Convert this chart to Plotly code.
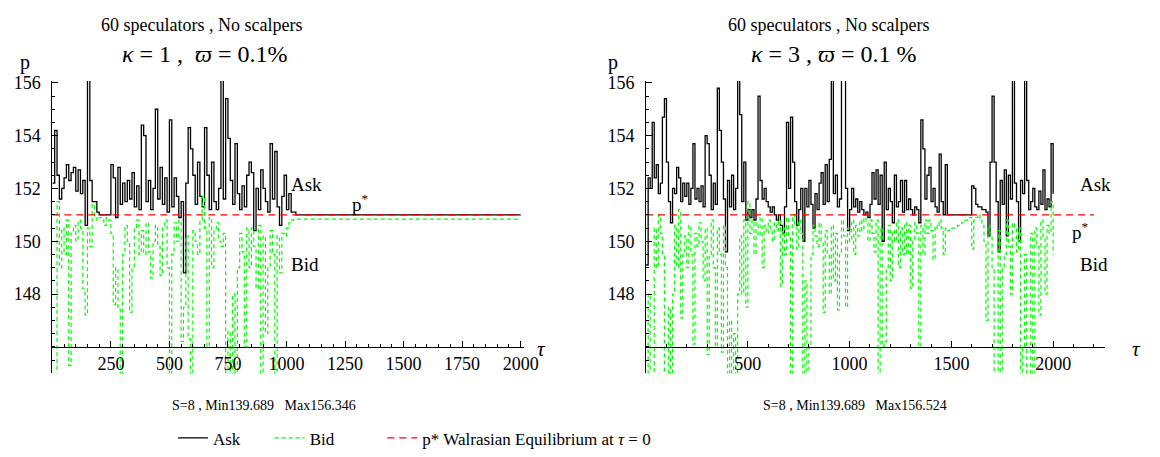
import plotly.graph_objects as go

W, H = 1160, 457
SERIF = "Liberation Serif"

# ---------------- data ----------------
TAU_STEP = 10
P_STAR = 151.0

# Left panel: kappa = 1   (tau = 0, 10, ..., 1030), then flat tails to 2000
ask_L = [
    152.2, 154.2, 152.5, 151.6, 152.0, 152.4, 152.9, 152.3, 152.6, 152.8,
    151.9, 152.7, 151.8, 152.3, 150.6, 156.3, 152.3, 151.5, 151.5, 151.1,
    151.0, 151.0, 151.0, 151.0, 151.0, 152.9, 152.4, 150.9, 152.8, 151.4,
    152.2, 151.5, 152.3, 151.6, 152.6, 151.3, 152.1, 151.2, 154.4, 154.0,
    151.5, 152.3, 151.2, 152.0, 155.0, 151.6, 152.8, 151.4, 152.4, 151.1,
    154.6, 151.3, 152.4, 151.7, 150.9, 151.5, 148.8, 152.2, 154.3, 153.5,
    152.5, 151.4, 153.0, 151.7, 151.3, 154.3, 152.5, 151.2, 153.0, 151.5,
    151.2, 152.0, 156.3, 151.6, 155.4, 153.9, 152.3, 151.4, 153.7, 151.8,
    151.2, 152.1, 151.3, 152.5, 153.0, 152.6, 150.4, 152.0, 151.2, 152.7,
    152.0, 151.5, 151.1, 153.7, 151.6, 153.4, 151.3, 150.6, 151.7, 152.5,
    151.2, 151.8, 151.1, 151.1,
]
bid_L = [
    140.0, 141.5, 151.5, 149.0, 150.5, 149.5, 150.8, 145.3, 150.3, 150.6,
    150.0, 150.8, 150.5, 148.2, 147.2, 150.5, 149.8, 151.4, 150.9, 150.8,
    150.9, 150.8, 150.6, 150.9, 150.8, 150.3, 147.6, 149.0, 147.5, 144.5,
    149.5, 150.6, 150.0, 147.3, 149.0, 150.5, 150.8, 149.5, 150.4, 149.5,
    150.7, 149.6, 148.6, 150.0, 150.6, 149.8, 148.7, 150.5, 150.8, 149.0,
    144.0, 149.5, 150.7, 150.0, 150.8, 146.2, 147.5, 150.2, 146.3, 144.0,
    150.4, 150.0, 149.5, 150.8, 151.7, 150.5, 146.0, 150.9, 149.0, 150.4,
    150.7, 150.0, 149.8, 150.3, 144.0, 146.6, 143.5, 148.0, 144.2, 149.0,
    150.3, 149.6, 146.0, 150.5, 149.0, 150.5, 149.8, 148.2, 150.6, 143.8,
    150.2, 146.5, 149.0, 150.4, 149.5, 143.5, 150.2, 148.8, 150.3, 150.2,
    150.5, 150.7, 150.8, 150.84,
]
tail_tau_L = [1040, 2000]
ask_tail_L = [151.0, 151.0]
bid_tail_L = [150.84, 150.84]
pstar_tau_L = [0, 2000]

# Right panel: kappa = 3   (tau = 0, 10, ..., 2000)
ask_R = [
    149.1, 152.4, 152.0, 154.5, 152.4, 152.9, 151.8, 152.2, 154.7, 155.4,
    153.0, 151.5, 150.7, 152.0, 151.8, 152.8, 152.4, 151.5, 152.2, 151.7,
    152.2, 151.4, 152.0, 153.7, 151.6, 152.0, 151.5, 152.1, 151.3, 154.0,
    153.7, 152.5, 151.2, 152.2, 151.4, 155.8, 154.2, 153.0, 151.6, 149.6,
    152.3, 151.3, 152.5, 151.2, 152.0, 156.3, 154.8, 151.5, 153.0, 150.8,
    151.2, 150.9, 151.2, 150.8, 151.6, 155.5, 152.3, 151.6, 152.0, 151.5,
    151.3, 151.1, 151.3, 151.0, 150.8, 151.0, 150.6, 150.3, 151.3, 154.5,
    152.0, 154.7, 153.0, 151.5, 150.6, 151.2, 152.0, 150.0, 152.0, 151.3,
    152.3, 151.4, 150.5, 151.8, 151.2, 152.2, 152.6, 151.4, 152.9, 151.5,
    153.1, 156.3, 151.8, 152.5, 151.3, 151.6, 156.3, 156.3, 152.0, 150.4,
    151.2, 152.0, 151.3, 151.6, 151.1, 151.5, 151.2, 151.0, 151.1, 150.9,
    151.4, 152.6, 151.6, 152.7, 151.4, 152.5, 150.0, 153.0, 151.2, 152.0,
    151.5, 150.7, 152.5, 151.3, 151.5, 152.3, 151.1, 152.3, 151.2, 151.6,
    151.2, 151.0, 151.3, 151.2, 150.7, 154.6, 153.5, 151.6, 152.5, 152.8,
    151.5, 152.0, 151.3, 151.1, 153.3, 151.5, 151.0, 152.9, 151.0, 151.0,
    151.0, 151.0, 151.0, 151.0, 151.0, 151.0, 151.0, 151.0, 151.0, 151.0,
    152.1, 152.0, 151.4, 151.3, 151.3, 151.2, 151.2, 151.1, 150.2, 153.0,
    155.5, 153.0, 151.5, 149.6, 152.3, 151.4, 152.7, 150.2, 152.5, 151.6,
    156.3, 152.2, 151.5, 150.0, 152.3, 151.8, 156.3, 152.3, 151.2, 151.5,
    152.0, 151.3, 151.2, 151.9, 151.4, 152.7, 151.2, 151.6, 151.3, 153.7,
    151.8,
]
bid_R = [
    140.0, 148.0, 141.0, 144.0, 150.5, 149.0, 151.0, 150.3, 149.5, 144.0,
    142.0, 147.5, 144.0, 148.0, 150.6, 149.0, 151.2, 147.1, 149.5, 150.2,
    149.0, 150.6, 149.5, 146.1, 150.3, 149.8, 150.7, 150.0, 148.5, 150.5,
    145.7, 149.5, 150.8, 149.0, 146.0, 150.5, 149.5, 145.8, 150.6, 149.0,
    144.0, 147.0, 144.5, 146.5, 144.0, 148.0, 150.2, 148.0, 150.8, 147.5,
    151.5, 150.3, 150.8, 149.5, 150.7, 150.2, 150.9, 149.0, 150.6, 150.3,
    150.8, 150.5, 150.0, 150.7, 150.4, 150.8, 148.3, 150.5, 149.5, 150.9,
    150.2, 144.0, 151.0, 150.6, 149.7, 150.8, 150.3, 144.0, 148.5, 144.0,
    146.0, 149.5, 150.6, 150.2, 149.8, 150.7, 150.0, 147.3, 150.4, 149.5,
    148.0, 150.6, 148.5, 150.3, 147.4, 149.5, 150.8, 150.2, 147.5, 150.5,
    150.0, 150.8, 149.5, 150.6, 150.2, 150.8, 150.4, 150.9, 150.7, 150.0,
    150.8, 150.3, 149.6, 150.8, 144.0, 150.5, 146.0, 146.2, 149.0, 150.6,
    148.5, 150.4, 150.0, 150.8, 149.0, 150.5, 149.5, 150.7, 149.5, 150.6,
    148.2, 150.0, 150.7, 150.3, 146.0, 150.6, 149.5, 150.8, 150.3, 150.8,
    150.4, 149.3, 150.6, 150.5, 150.8, 150.5, 149.5, 150.5, 150.4, 150.5,
    150.5, 150.5, 150.5, 150.6, 150.6, 150.7, 150.8, 150.8, 150.9, 150.9,
    149.7, 150.8, 150.9, 151.0, 150.8, 150.6, 150.0, 147.0, 150.6, 150.2,
    149.0, 144.0, 143.5, 150.4, 144.0, 149.0, 149.5, 150.8, 149.8, 148.0,
    150.7, 150.5, 149.6, 150.5, 144.0, 146.0, 149.5, 143.8, 144.0, 150.3,
    143.6, 150.5, 149.8, 147.2, 150.8, 150.2, 148.0, 150.6, 150.3, 151.5,
    149.5,
]
pstar_tau_R = [0, 2200]

x_ticks_L = [250, 500, 750, 1000, 1250, 1500, 1750, 2000]
x_ticks_R = [500, 1000, 1500, 2000]
y_ticks = [148, 150, 152, 154, 156]

panels = [
    dict(title="60 speculators , No scalpers",
         sub="<i>κ</i> = 1 ,  <i>ϖ</i> = 0.1%",
         stats="S=8 , Min139.689   Max156.346"),
    dict(title="60 speculators , No scalpers",
         sub="<i>κ</i> = 3 , <i>ϖ</i> = 0.1 %",
         stats="S=8 , Min139.689   Max156.524"),
]

# ---------------- geometry helpers (pixel -> paper) ----------------
def fx(px):
    return px / W

def fy(py):
    return 1 - py / H

Y_RANGE = [144.99, 156.07]
Y_DOM = [fy(372), fy(74.3)]
X_AXIS_POS = fy(345)

tau_L = [i * TAU_STEP for i in range(len(ask_L))]
tau_R = [i * TAU_STEP for i in range(len(ask_R))]

ASK_C, BID_C, P_C = "#000000", "#00ff00", "#ff0000"

fig = go.Figure()

def add_panel(xa, ya, tau_a, ask, tau_b, bid, ptau, show):
    fig.add_trace(go.Scatter(x=tau_a, y=ask, mode="lines", name="Ask",
                             line=dict(color=ASK_C, width=1.3, shape="hv"),
                             xaxis=xa, yaxis=ya, showlegend=show,
                             legend="legend"))
    fig.add_trace(go.Scatter(x=tau_b, y=bid, mode="lines", name="Bid",
                             line=dict(color=BID_C, width=1.2, shape="hv",
                                       dash="4px,3px"),
                             xaxis=xa, yaxis=ya, showlegend=show,
                             legend="legend2"))
    fig.add_trace(go.Scatter(x=ptau, y=[P_STAR] * len(ptau), mode="lines",
                             name="p* Walrasian Equilibrium at <i>τ</i> = 0",
                             line=dict(color=P_C, width=1.3, dash="7px,5px"),
                             xaxis=xa, yaxis=ya, showlegend=show,
                             legend="legend3"))

add_panel("x", "y", tau_L + tail_tau_L, ask_L + ask_tail_L,
          tau_L + tail_tau_L, bid_L + bid_tail_L, pstar_tau_L, True)
add_panel("x2", "y2", tau_R, ask_R, tau_R, bid_R, pstar_tau_R, False)

tickfont = dict(family=SERIF, size=18, color="black")

def xaxis(dom, rng, ticks, minor):
    return dict(domain=dom, range=rng, anchor="free", position=X_AXIS_POS,
                showline=True, linecolor="black", linewidth=1,
                ticks="inside", ticklen=6, tickcolor="black", tickwidth=1,
                tickvals=ticks, ticktext=[str(t) for t in ticks],
                minor=dict(dtick=minor, tick0=0, ticks="inside", ticklen=3,
                           tickcolor="black"),
                showgrid=False, zeroline=False, tickfont=tickfont,
                fixedrange=True)

def yaxis(anchor):
    return dict(domain=Y_DOM, range=Y_RANGE, anchor=anchor,
                showline=True, linecolor="black", linewidth=1,
                ticks="inside", ticklen=6, tickcolor="black", tickwidth=1,
                tickvals=y_ticks, ticktext=[str(t) for t in y_ticks],
                minor=dict(dtick=0.5, tick0=146, ticks="inside", ticklen=3,
                           tickcolor="black"),
                ticklabelstandoff=7,
                showgrid=False, zeroline=False, tickfont=tickfont,
                fixedrange=True)

L_X0, L_X1 = 53, 53 + 2015 * 0.237
R_X0, R_X1 = 654, 654 + 2255 * 0.206

def legend_at(px_x):
    return dict(orientation="h", x=fx(px_x), y=fy(438), xanchor="left",
                yanchor="middle",
                font=dict(family=SERIF, size=17, color="black"),
                itemwidth=30, bgcolor="rgba(0,0,0,0)")

fig.update_layout(
    width=W, height=H,
    margin=dict(l=0, r=0, t=0, b=0),
    paper_bgcolor="white", plot_bgcolor="white",
    xaxis=xaxis([fx(L_X0), fx(L_X1)], [0, 2015], x_ticks_L, 50),
    yaxis=yaxis("x"),
    xaxis2=xaxis([fx(R_X0), fx(R_X1)], [0, 2255], x_ticks_R, 100),
    yaxis2=yaxis("x2"),
    legend=legend_at(175),
    legend2=legend_at(273),
    legend3=legend_at(387),
    showlegend=True,
)

ann = []
def txt(x, y, s, size, xanchor="center", xref="paper", yref="paper"):
    ann.append(dict(x=x, y=y, xref=xref, yref=yref, text=s, showarrow=False,
                    xanchor=xanchor, yanchor="middle",
                    font=dict(family=SERIF, size=size, color="black")))

for (cx, sx, lx), p in zip([(204, 207, 25), (839, 844, 620)], panels):
    txt(fx(cx), fy(17), p["title"], 18)
    txt(fx(sx), fy(47), p["sub"], 24)
    txt(fx(lx), fy(55), "p", 20)

txt(fx(267), fy(405), panels[0]["stats"], 14)
txt(fx(865), fy(405), panels[1]["stats"], 14)

# tau axis labels
txt(fx(548), fy(347), "<i>τ</i>", 21)
txt(fx(1150), fy(347), "<i>τ</i>", 21)

# in-plot labels (data coordinates)
txt(1010, 152.15, "Ask", 19, "left", "x", "y")
txt(1010, 149.1, "Bid", 19, "left", "x", "y")
txt(1270, 151.45, "p<sup>*</sup>", 19, "left", "x", "y")
txt(2120, 152.15, "Ask", 19, "left", "x2", "y2")
txt(2120, 149.1, "Bid", 19, "left", "x2", "y2")
txt(2085, 150.4, "p<sup>*</sup>", 19, "left", "x2", "y2")

fig.update_layout(annotations=ann)

fig.write_html("out.html")
